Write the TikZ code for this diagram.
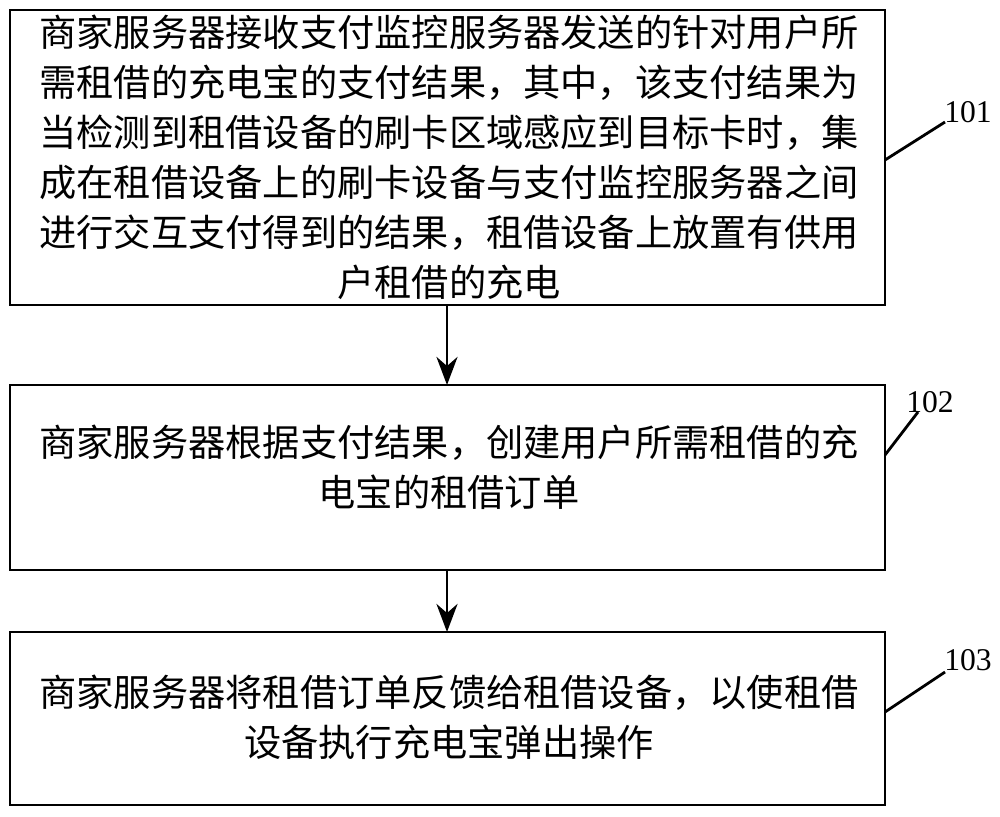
\documentclass[tikz,border=0pt]{standalone}
\usepackage{fontspec}
\setmainfont{Liberation Serif}
\newfontfamily\cjk{Noto Sans CJK SC}
\usetikzlibrary{positioning, arrows.meta}

\begin{document}
\begin{tikzpicture}[x=0.02cm, y=-0.02cm,
    stepbox/.style={draw, line width=1.6pt},
    steptext/.style={font=\cjk\fontsize{21.2pt}{28.5pt}\selectfont, align=center},
    tag/.style={font=\fontsize{18pt}{20pt}\selectfont}]
    \useasboundingbox (0,0) rectangle (1000,816);
    % boxes
    \draw[stepbox] (10,10) rectangle (885,305);
    \draw[stepbox] (10,385) rectangle (885,570);
    \draw[stepbox] (10,632) rectangle (885,805);
    \node[steptext] (S1) at (449,157) {商家服务器接收支付监控服务器发送的针对用户所\\需租借的充电宝的支付结果，其中，该支付结果为\\当检测到租借设备的刷卡区域感应到目标卡时，集\\成在租借设备上的刷卡设备与支付监控服务器之间\\进行交互支付得到的结果，租借设备上放置有供用\\户租借的充电};
    \node[steptext] (S2) at (449,467) {商家服务器根据支付结果，创建用户所需租借的充\\电宝的租借订单};
    \node[steptext] (S3) at (449,717) {商家服务器将租借订单反馈给租借设备，以使租借\\设备执行充电宝弹出操作};
    % arrows
    \coordinate (a1) at (447,305);
    \coordinate (b1) at (447,385);
    \coordinate (a2) at (447,570);
    \coordinate (b2) at (447,632);
    \draw[line width=1.6pt, -{Stealth[length=16pt, width=12pt]}] (a1) -- (b1);
    \draw[line width=1.6pt, -{Stealth[length=16pt, width=12pt]}] (a2) -- (b2);
    % labels
    \node[tag] (L1) at (968,112) {101};
    \node[tag] (L2) at (930,402) {102};
    \node[tag] (L3) at (968,660) {103};
    \coordinate (c1) at (885,160);
    \coordinate (c2) at (885,455);
    \coordinate (c3) at (885,712);
    \draw[line width=1.6pt] (c1) -- (945,122);
    \draw[line width=1.6pt] (c2) -- (918,412);
    \draw[line width=1.6pt] (c3) -- (945,672);
\end{tikzpicture}
\end{document}
